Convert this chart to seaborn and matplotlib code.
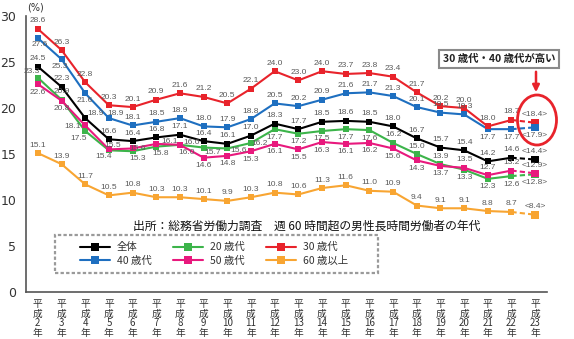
import numpy as np
import pandas as pd
import matplotlib
matplotlib.use("Agg")
import matplotlib.pyplot as plt
import seaborn as sns
from matplotlib.lines import Line2D
from matplotlib.patches import Rectangle, Ellipse, FancyArrowPatch

# ---- data: share of men working over 60 hours a week, by age group (%) ----
years = ["平成2年", "平成3年", "平成4年", "平成5年", "平成6年", "平成7年", "平成8年",
         "平成9年", "平成10年", "平成11年", "平成12年", "平成13年", "平成14年",
         "平成15年", "平成16年", "平成17年", "平成18年", "平成19年", "平成20年",
         "平成21年", "平成22年", "平成23年"]

overall = [24.5, 22.3, 18.9, 16.6, 16.4, 16.8, 17.1, 16.4, 16.1, 17.0, 18.3,
           17.7, 18.5, 18.6, 18.5, 18.0, 16.7, 15.7, 15.4, 14.2, 14.6, 14.4]
age20 = [23.3, 20.9, 17.5, 15.4, 15.3, 15.8, 16.0, 15.7, 15.6, 16.2, 17.7,
         17.2, 17.5, 17.7, 17.6, 16.2, 15.0, 13.9, 13.3, 12.3, 12.6, 12.8]
age30 = [28.6, 26.3, 22.8, 20.3, 20.1, 20.9, 21.6, 21.2, 20.5, 22.1, 24.0,
         23.0, 24.0, 23.7, 23.8, 23.4, 21.7, 20.2, 20.0, 18.0, 18.7, 18.4]
age40 = [27.6, 25.3, 21.6, 18.9, 18.1, 18.5, 18.9, 18.0, 17.9, 18.8, 20.5,
         20.2, 20.9, 21.6, 21.7, 21.3, 20.1, 19.5, 19.3, 17.7, 17.7, 17.9]
age50 = [22.6, 20.8, 18.1, 15.5, 15.6, 16.1, 16.0, 14.6, 14.8, 15.3, 16.1,
         15.5, 16.3, 16.1, 16.2, 15.6, 14.3, 13.7, 13.5, 12.7, 13.2, 12.9]
age60 = [15.1, 13.9, 11.7, 10.5, 10.8, 10.3, 10.3, 10.1, 9.9, 10.3, 10.8,
         10.6, 11.3, 11.6, 11.0, 10.9, 9.4, 9.1, 9.1, 8.8, 8.7, 8.4]

series_names = ["全体", "20 歳代", "30 歳代", "40 歳代", "50 歳代", "60 歳以上"]
series_values = [overall, age20, age30, age40, age50, age60]
colors = ["#000000", "#3cb44a", "#e8232b", "#1e6fc0", "#e8197d", "#f8a532"]

# the last year is a provisional value, drawn dashed and labelled <...>
n_fixed = len(years) - 1

# value-label placement in pixels (dx, dy; dy > 0 is up). Default: above.
ABOVE, BELOW = (0, 8), (0, -8)
label_offsets = {
    "全体": {2: (10, 5)},
    "20 歳代": {0: (-6, 6), 2: (-7, -8), 3: (-5, -6), 4: (5, -7), 5: (4, -7),
               6: (12, 2), 7: (9, -5), 8: (11, -2), 9: (9, -1),
               10: BELOW, 11: BELOW, 12: BELOW, 13: BELOW, 14: BELOW,
               18: BELOW, 19: BELOW, 20: BELOW, 21: BELOW},
    "30 歳代": {},
    "40 歳代": {0: (2, -6), 1: (-2, -7), 2: (0, -7), 3: (7, 5),
               19: BELOW, 20: BELOW, 21: BELOW},
    "50 歳代": {0: BELOW, 1: BELOW, 2: (-13, -1), 3: (4, 4), 4: (5, 0), 5: (13, 2),
               6: (7, -8), 7: BELOW, 8: BELOW, 9: BELOW, 10: BELOW, 11: BELOW,
               12: BELOW, 13: BELOW, 14: BELOW, 15: BELOW, 16: BELOW, 17: BELOW},
    "60 歳以上": {},
}

rows = []
for name, vals in zip(series_names, series_values):
    for i, v in enumerate(vals):
        rows.append({"x": i, "value": v, "series": name})
df = pd.DataFrame(rows)
solid = df[df["x"] < n_fixed]
tail = df[df["x"] >= n_fixed - 1]
last = df[df["x"] == n_fixed]

palette = dict(zip(series_names, colors))
draw_order = ["60 歳以上", "20 歳代", "50 歳代", "40 歳代", "全体", "30 歳代"]

sns.set_theme(style="white")
cjk = ["Noto Sans CJK JP", "DejaVu Sans"]
plt.rcParams["font.family"] = cjk

fig = plt.figure(figsize=(5.74, 3.39), dpi=100)
ax = fig.add_axes([26 / 574, 1 - 292 / 339, 521 / 574, 276 / 339])

sns.lineplot(data=solid, x="x", y="value", hue="series", hue_order=draw_order,
             palette=palette, marker="s", markersize=5, markeredgewidth=0,
             linewidth=1.5, legend=False, ax=ax, zorder=3)
sns.lineplot(data=tail, x="x", y="value", hue="series", hue_order=draw_order,
             palette=palette, linestyle=(0, (2.5, 1.5)), linewidth=1.5,
             legend=False, ax=ax, zorder=3)
sns.scatterplot(data=last, x="x", y="value", hue="series", hue_order=draw_order,
                palette=palette, marker="s", s=30, linewidth=0,
                legend=False, ax=ax, zorder=4)

# value labels
px2pt = 72 / 100
for name, vals in zip(series_names, series_values):
    for i, v in enumerate(vals):
        txt = f"<{v:.1f}>" if i == n_fixed else f"{v:.1f}"
        dx, dy = label_offsets[name].get(i, ABOVE)
        ax.annotate(txt, (i, v), xytext=(dx * px2pt, dy * px2pt),
                    textcoords="offset points", ha="center", va="center",
                    fontsize=6, color="#5a5a5a", family="Liberation Sans", zorder=6)

# axes styling
ax.set_xlim(-0.5, len(years) - 0.5)
ax.set_ylim(0, 30)
ax.set_yticks(np.arange(0, 31, 5))
ax.set_yticklabels([str(v) for v in range(0, 31, 5)], family="DejaVu Sans",
                   fontsize=9, color="#333333")
ax.tick_params(axis="y", direction="in", length=11, width=1.2, color="#666666", pad=7)

ax.set_xticks(np.arange(len(years)) + 0.5)
ax.set_xticklabels([])
ax.tick_params(axis="x", which="major", direction="in", length=6, width=1.2,
               color="#666666")
vert = ["\n".join(["平", "成", y[2:-1], "年"]) for y in years]
ax.set_xticks(np.arange(len(years)), minor=True)
ax.set_xticklabels(vert, minor=True, fontsize=7, color="#333333")
ax.tick_params(axis="x", which="minor", length=0, pad=5)
for t in ax.get_xticklabels(minor=True):
    t.set_linespacing(0.95)

ax.set_xlabel("")
ax.set_ylabel("")
for s in ["top", "right"]:
    ax.spines[s].set_visible(False)
for s in ["left", "bottom"]:
    ax.spines[s].set_color("#555555")
    ax.spines[s].set_linewidth(1.2)
ax.grid(False)

fig.text(35 / 574, 1 - 7 / 339, "(%)", ha="center", va="center", fontsize=7,
         color="#333333", family="DejaVu Sans")

# source note
fig.text(307 / 574, 1 - 226 / 339,
         "出所：総務省労働力調査　週 60 時間超の男性長時間労働者の年代",
         ha="center", va="center", fontsize=8.5, color="#111111")

# legend inside a dashed box
fig.patches.append(Rectangle((55 / 574, 1 - 273 / 339), 323 / 574, 38 / 339,
                             transform=fig.transFigure, fill=False,
                             edgecolor="#9a9a9a", linewidth=1.6,
                             linestyle=(0, (1.5, 1))))
legend_order = ["全体", "40 歳代", "20 歳代", "50 歳代", "30 歳代", "60 歳以上"]
handles = [Line2D([], [], color=palette[n], marker="s", markersize=6,
                  markeredgewidth=0, linewidth=1.5) for n in legend_order]
leg = fig.legend(handles, legend_order, ncol=3, loc="center",
                 bbox_to_anchor=(214 / 574, 1 - 254 / 339), frameon=False,
                 fontsize=7.5, handlelength=2.9, handletextpad=0.7,
                 columnspacing=2.0, labelspacing=0.35)
for t in leg.get_texts():
    t.set_color("#333333")

# callout
fig.text(499 / 574, 1 - 59 / 339, "30 歳代・40 歳代が高い", ha="center", va="center",
         fontsize=7.5, color="#222222", weight="bold",
         bbox=dict(boxstyle="square,pad=0.35", facecolor="white",
                   edgecolor="#8a8a8a", linewidth=1.5))
fig.patches.append(FancyArrowPatch((536 / 574, 1 - 69 / 339), (536 / 574, 1 - 95 / 339),
                                   transform=fig.transFigure, arrowstyle="-|>",
                                   mutation_scale=10, color="#e8232b", linewidth=1.8))
fig.patches.append(Ellipse((537 / 574, 1 - 120 / 339), 39 / 574, 50 / 339,
                           transform=fig.transFigure, fill=False,
                           edgecolor="#e8232b", linewidth=2))

fig.savefig("out.png", dpi=100)
